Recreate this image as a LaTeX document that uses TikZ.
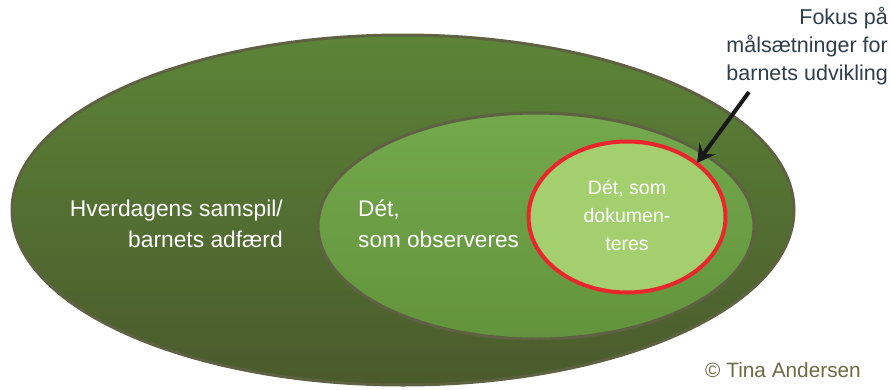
\documentclass[tikz,border=0pt]{standalone}
\usepackage{fontspec}
\setmainfont{Liberation Sans}
\usetikzlibrary{shapes.geometric,arrows.meta}
\definecolor{outerTop}{HTML}{5C8437}
\definecolor{outerBot}{HTML}{4A5A2C}
\definecolor{ringLine}{HTML}{5E6242}
\definecolor{midFill}{HTML}{6DA443}
\definecolor{innerFill}{HTML}{A3CF6F}
\definecolor{redLine}{HTML}{E8262B}
\definecolor{noteText}{HTML}{2F3E4C}
\definecolor{copyText}{HTML}{6B6B45}
\tikzset{
  ring/.style={ellipse, draw=ringLine, line width=3pt, inner sep=0pt},
  whitetxt/.style={text=white, inner sep=0pt},
}
\begin{document}
\begin{tikzpicture}[x=1pt,y=-1pt]
\useasboundingbox (0,0) rectangle (892,389);
\node[ring, minimum width=782pt, minimum height=350pt, top color=outerTop, bottom color=outerBot] (outer) at (403,210) {};
\node[ring, minimum width=436pt, minimum height=226pt, top color=midFill!95!white, bottom color=midFill!90!black] (mid) at (536,226) {};
\node[ellipse, draw=redLine, line width=4pt, fill=innerFill, minimum width=197pt, minimum height=151pt, inner sep=0pt] (inner) at (627,217) {};
\node[whitetxt, font=\fontsize{22.8}{31}\selectfont, align=right, anchor=east] (t1) at (283,224) {Hverdagens samspil/\\barnets adfærd};
\node[whitetxt, font=\fontsize{22.6}{31}\selectfont, align=left, anchor=west] (t2) at (358,224) {Dét,\\som observeres};
\node[whitetxt, font=\fontsize{19.5}{28}\selectfont, align=center] (t3) at (627,215) {Dét, som\\dokumen-\\teres};
\node[text=noteText, font=\fontsize{21.5}{28}\selectfont, align=right, anchor=north east, inner sep=0pt] (note) at (888,7) {Fokus på\\målsætninger for\\barnets udvikling};
\coordinate (tail) at (749,92);
\coordinate (tip) at (697,163);
\draw[line width=4pt, black!90, -{Stealth[length=18pt,width=20pt,inset=7pt]}] (tail) -- (tip);
\node[text=copyText, font=\fontsize{20.8}{20}\selectfont, anchor=west, inner sep=0pt] (copy) at (705,370) {© Tina Andersen};
\end{tikzpicture}
\end{document}
